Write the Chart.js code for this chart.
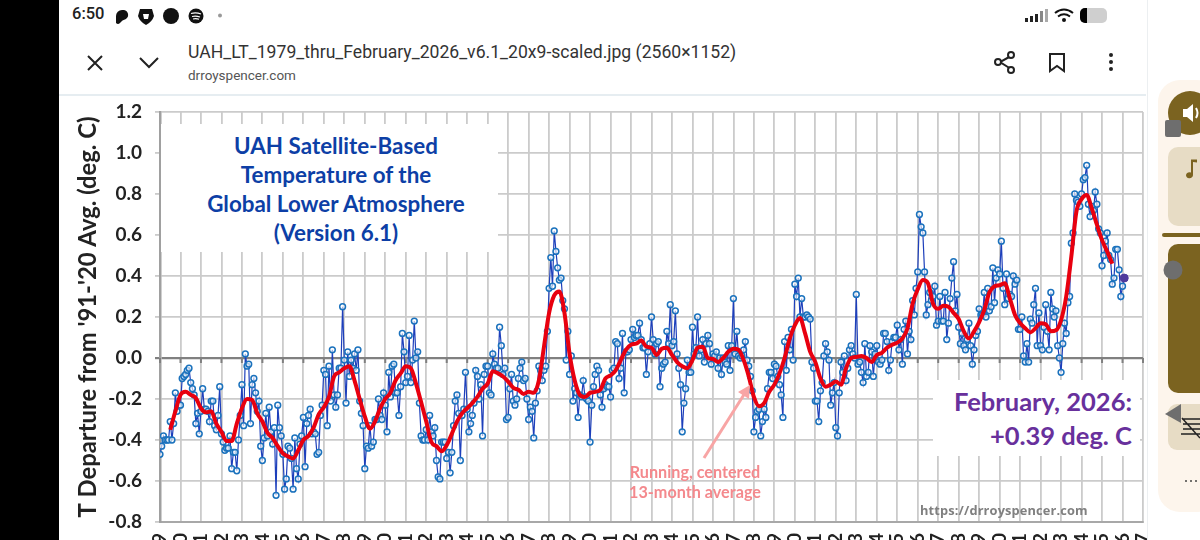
<!DOCTYPE html>
<html>
<head>
<meta charset="utf-8">
<title>UAH LT</title>
<script src="https://cdn.jsdelivr.net/npm/chart.js@4"></script>
<style>
    html, body { margin: 0; padding: 0; background: #fff; }
    body { position: relative; width: 1200px; height: 540px; overflow: hidden; font-family: Lato, sans-serif; }
    #chartcanvas { position: absolute; left: 0; top: 0; }
    .box { position: absolute; background: #fff; }
    .label { position: absolute; white-space: nowrap; }
    #blackbar { position: absolute; left: 0; top: 0; width: 59px; height: 540px; background: #000; }
    #sidepanel { position: absolute; left: 1147px; top: 0; width: 53px; height: 540px; background: #fff; border-left: 1px solid #eceff1; }
    #icons { position: absolute; left: 0; top: 0; }
    #headerline { position: absolute; left: 59px; top: 94px; width: 1087px; height: 2px; background: #e6edf1; }
    #charttitle { left: 161px; top: 124px; width: 337px; height: 128px; color: #0d3fa6; font-weight: 700; font-size: 22.4px; line-height: 29px; text-align: center; padding: 7px 0 0 13px; box-sizing: border-box; }
    #febtext { right: 68px; top: 384px; color: #68309c; font-weight: 700; font-size: 25.5px; line-height: 34px; text-align: right; }
    #runningtext { left: 610px; top: 462px; width: 170px; color: #f4898d; font-weight: 700; font-size: 16.2px; line-height: 20px; text-align: center; }
    #urltext { left: 920px; top: 501px; color: #808080; font-weight: 700; font-size: 12.8px; letter-spacing: 0.15px; font-family: "Open Sans", sans-serif; }
    #clock { left: 72px; top: 4px; color: #222; font-family: Roboto, sans-serif; font-weight: 500; font-size: 16.5px; }
    #filename { left: 188px; top: 42px; color: #333; font-family: Roboto, sans-serif; font-size: 17.6px; }
    #sitename { left: 188px; top: 67px; color: #555; font-family: Roboto, sans-serif; font-size: 13.5px; }
</style>
</head>
<body>
<canvas id="chartcanvas" width="1200" height="580"></canvas>

<div class="box" id="febbox" style="left:933px; top:380px; width:207px; height:76px;"></div>
<div class="box label" id="charttitle">UAH Satellite-Based<br>Temperature of the<br>Global Lower Atmosphere<br>(Version 6.1)</div>
<div class="label" id="febtext">February, 2026:<br>+0.39 deg. C</div>
<div class="label" id="runningtext">Running, centered<br>13-month average</div>
<div class="label" id="urltext">https://drroyspencer.com</div>

<div class="box" style="left:59px; top:0; width:1088px; height:94px;"></div>
<div id="headerline"></div>
<div id="blackbar"></div>
<div id="sidepanel"></div>
<div class="label" id="clock">6:50</div>
<div class="label" id="filename">UAH_LT_1979_thru_February_2026_v6.1_20x9-scaled.jpg (2560×1152)</div>
<div class="label" id="sitename">drroyspencer.com</div>

<svg id="icons" width="1200" height="540">
    <!-- pointer from the label to the red curve -->
    <line x1="704" y1="458" x2="745" y2="393" stroke="#f8a5a5" stroke-width="3"/>
    <polygon points="750,385 749,399 738,392" fill="#f8a5a5"/>

    <!-- status bar -->
    <path d="M116 23 v-7 a6 6 0 0 1 6 -6 h2 a5 5 0 0 1 2 9 q-4 1 -6 4 q-2 2 -4 0z" fill="#111"/>
    <path d="M140 9 h12 l2 7 q-2 6 -8 9 q-6 -3 -8 -9z" fill="#111"/><path d="M143 14 h6 l-1 5 h-4z" fill="#fff"/>
    <circle cx="171" cy="16" r="8" fill="#111"/>
    <circle cx="196" cy="16" r="7.5" fill="#111"/>
    <path d="M191 13.5 q5 -1.5 10 0.5 M192 16.5 q4 -1 8 0.5 M193 19 q3 -0.8 6 0.3" stroke="#fff" stroke-width="1.2" fill="none"/>
    <circle cx="220" cy="15.5" r="2" fill="#999"/>
    <rect x="1025" y="18" width="3" height="4" fill="#222"/><rect x="1030" y="16" width="3" height="6" fill="#222"/><rect x="1035" y="14" width="3" height="8" fill="#222"/>
    <rect x="1040" y="11" width="3" height="11" fill="#888"/><rect x="1045" y="9" width="3" height="13" fill="#aaa"/>
    <path d="M1055 13 q9 -7 18 0 M1058 16.5 q6 -4.5 12 0" stroke="#111" stroke-width="2" fill="none"/><circle cx="1064" cy="20" r="2" fill="#111"/>
    <rect x="1080" y="8" width="27" height="15" rx="5" fill="#cfcfcf"/><path d="M1085 8 h2 v15 h-2 a5 5 0 0 1 -5 -5 v-5 a5 5 0 0 1 5 -5z" fill="#000"/>

    <!-- header icons -->
    <path d="M88 56 l14 14 M102 56 l-14 14" stroke="#222" stroke-width="2" fill="none"/>
    <path d="M140 58 l9 9 l9 -9" stroke="#222" stroke-width="2" fill="none"/>
    <path d="M1011 56 l-11 6 l11 7" stroke="#222" stroke-width="2" fill="none"/>
    <circle cx="1011" cy="55" r="3" fill="#fff" stroke="#222" stroke-width="2"/><circle cx="998" cy="62" r="3" fill="#fff" stroke="#222" stroke-width="2"/><circle cx="1011" cy="70" r="3" fill="#fff" stroke="#222" stroke-width="2"/>
    <path d="M1050 54 h14 v17 l-7 -5 l-7 5z" stroke="#222" stroke-width="2" fill="none"/>
    <circle cx="1111" cy="55" r="2" fill="#222"/><circle cx="1111" cy="62" r="2" fill="#222"/><circle cx="1111" cy="69" r="2" fill="#222"/>

    <!-- side panel -->
    <rect x="1158" y="80" width="60" height="432" rx="22" fill="#fdf5ec"/>
    <circle cx="1190" cy="113" r="22" fill="#7b6320"/>
    <path d="M1183 109 h4 l6 -5 v18 l-6 -5 h-4z" fill="#fff"/><path d="M1196 108 q3 5 0 10" stroke="#fff" stroke-width="2" fill="none"/>
    <rect x="1165" y="120" width="16" height="17" rx="2" fill="#6e6e6e"/>
    <rect x="1168" y="147" width="50" height="79" rx="10" fill="#e7dcc5"/>
    <path d="M1193 162 v13 a3.5 3 0 1 1 -2 -2.5 v-13 h6 v3z" fill="#7b6320"/>
    <rect x="1162" y="233" width="50" height="4" rx="2" fill="#7b6320"/>
    <rect x="1168" y="244" width="50" height="149" rx="10" fill="#7b6320"/>
    <circle cx="1173" cy="270" r="9.5" fill="#6e6e6e"/>
    <rect x="1168" y="404" width="50" height="46" rx="9" fill="#e7dcc5"/>
    <path d="M1181 404 v19 l-16 -9z" fill="#6e6e6e"/>
    <path d="M1182 419 h18 M1183 424 h17 M1183 429 h17 M1181 434 h19 M1182 418 l18 20" stroke="#222" stroke-width="1.5" fill="none"/>
    <circle cx="1186" cy="481" r="1" fill="#444"/><circle cx="1191" cy="481" r="1" fill="#444"/><circle cx="1196" cy="481" r="1" fill="#444"/>
</svg>

<script>
// one row per year, Jan to Dec
var monthlyValues = [
    -0.47,-0.43,-0.38,-0.40,-0.40,-0.40,-0.31,-0.40,-0.32,-0.17,-0.26,-0.23,
    -0.23,-0.10,-0.09,-0.08,-0.06,-0.05,-0.12,-0.15,-0.18,-0.32,-0.27,-0.37,
    -0.26,-0.15,-0.25,-0.25,-0.26,-0.31,-0.21,-0.21,-0.33,-0.35,-0.28,-0.14,
    -0.37,-0.41,-0.45,-0.44,-0.44,-0.38,-0.54,-0.46,-0.46,-0.55,-0.40,-0.28,
    -0.13,-0.33, 0.02,-0.04,-0.03,-0.32,-0.13,-0.10,-0.17,-0.26,-0.21,-0.43,
    -0.50,-0.39,-0.27,-0.38,-0.24,-0.36,-0.42,-0.34,-0.67,-0.23,-0.34,-0.38,
    -0.47,-0.64,-0.59,-0.43,-0.44,-0.49,-0.64,-0.39,-0.54,-0.59,-0.42,-0.38,
    -0.29,-0.53,-0.32,-0.28,-0.25,-0.37,-0.36,-0.37,-0.47,-0.46,-0.28,-0.23,
    -0.06,-0.08,-0.33,-0.04,-0.21, 0.04,-0.18,-0.24,-0.18,-0.05,-0.05, 0.25,
    -0.01,-0.22, 0.03,-0.09,-0.01,-0.05, 0.02,-0.06, 0.04,-0.21,-0.27,-0.33,
    -0.54,-0.43,-0.44,-0.33,-0.43,-0.41,-0.30,-0.30,-0.20,-0.28,-0.30,-0.17,
    -0.23,-0.36,-0.07,-0.19,-0.04,-0.03,-0.17,-0.17,-0.28,-0.14, 0.12, 0.03,
    -0.12,-0.09, 0.11,-0.12,-0.01, 0.18, 0.00, 0.03,-0.22,-0.38,-0.40,-0.40,
    -0.35,-0.40,-0.28,-0.36,-0.38,-0.34,-0.50,-0.58,-0.59,-0.41,-0.41,-0.41,
    -0.49,-0.46,-0.56,-0.46,-0.33,-0.21,-0.18,-0.27,-0.50,-0.28,-0.25,-0.07,
    -0.25,-0.36,-0.32,-0.28,-0.22,-0.06,-0.09,-0.20,-0.13,-0.38,-0.08,-0.04,
    -0.04,-0.17,-0.18, 0.02,-0.03,-0.05,-0.05, 0.15, 0.06,-0.08,-0.05,-0.30,
    -0.29,-0.15,-0.08,-0.21,-0.23,-0.20,-0.10,-0.05,-0.02,-0.11,-0.10,-0.20,
    -0.30,-0.24,-0.26,-0.39,-0.22,-0.16,-0.04,-0.06,-0.11,-0.06,-0.04, 0.13,
     0.34, 0.49, 0.35, 0.62, 0.52, 0.44, 0.38, 0.39, 0.28, 0.24,-0.01, 0.13,
    -0.08, 0.01,-0.21,-0.15,-0.17,-0.29,-0.18,-0.19,-0.11,-0.19,-0.20,-0.21,
    -0.41,-0.23,-0.14,-0.08,-0.04,-0.06,-0.18,-0.24,-0.15,-0.13,-0.14,-0.14,
    -0.19,-0.06,-0.05, 0.08, 0.07,-0.10,-0.05, 0.12,-0.17, 0.03, 0.03, 0.04,
     0.09, 0.14, 0.10, 0.11, 0.11, 0.17, 0.09, 0.05, 0.05,-0.08, 0.03, 0.07,
     0.20, 0.09, 0.02, 0.07, 0.08,-0.14,-0.05,-0.03,-0.02, 0.13, 0.07, 0.26,
     0.06, 0.08, 0.23, 0.02,-0.05,-0.13,-0.36,-0.22,-0.15,-0.01,-0.07,-0.07,
     0.15, 0.02, 0.05, 0.20, 0.01, 0.04, 0.09,-0.02, 0.07, 0.11, 0.07,-0.03,
     0.02, 0.01, 0.03,-0.05, 0.00,-0.08, 0.00,-0.02,-0.03, 0.06,-0.06, 0.06,
     0.29, 0.02, 0.13, 0.01, 0.00, 0.01, 0.04, 0.08,-0.01,-0.04,-0.09,-0.16,
    -0.36,-0.29,-0.26,-0.25,-0.38,-0.31,-0.25,-0.29,-0.15,-0.07,-0.07,-0.10,
    -0.03,-0.04,-0.09,-0.13,-0.18,-0.29, 0.08,-0.06, 0.10, 0.04, 0.14,-0.01,
     0.36, 0.30, 0.39, 0.20, 0.29, 0.20, 0.20, 0.21, 0.20, 0.19,-0.02,-0.05,
    -0.21,-0.21,-0.31,-0.16,-0.12, 0.01, 0.07, 0.03,-0.01,-0.23,-0.17,-0.12,
    -0.34,-0.38,-0.17,-0.02,-0.07, 0.01,-0.11,-0.05, 0.04, 0.06, 0.02, 0.00,
     0.31,-0.03,-0.02,-0.07,-0.12, 0.07,-0.09,-0.07, 0.06, 0.03,-0.09, 0.02,
     0.06,-0.02,-0.03,-0.01, 0.12, 0.12, 0.08,-0.06,-0.01, 0.08, 0.10, 0.10,
     0.16, 0.04, 0.09,-0.03, 0.14, 0.18, 0.02, 0.13, 0.09, 0.28, 0.21, 0.34,
     0.42, 0.70, 0.64, 0.61, 0.42, 0.21, 0.26, 0.32, 0.28, 0.30, 0.35, 0.16,
     0.18, 0.30, 0.18, 0.18, 0.32, 0.09, 0.17, 0.29, 0.39, 0.47, 0.23, 0.31,
     0.15, 0.07, 0.12, 0.06, 0.04, 0.09, 0.17, 0.06,-0.03, 0.04, 0.11, 0.13,
     0.24, 0.21, 0.21, 0.32, 0.20, 0.34, 0.23, 0.25, 0.44, 0.27, 0.39, 0.43,
     0.41, 0.57, 0.34, 0.26, 0.41, 0.29, 0.31, 0.30, 0.40, 0.36, 0.38, 0.14,
     0.14, 0.20, 0.01,-0.02, 0.07,-0.02, 0.19, 0.17, 0.26, 0.34, 0.06, 0.22,
     0.06, 0.04, 0.15, 0.26, 0.13, 0.04, 0.32, 0.24, 0.20, 0.23, 0.06, 0.00,
    -0.07, 0.07, 0.17, 0.12, 0.27, 0.30, 0.56, 0.61, 0.80, 0.77, 0.76, 0.74,
     0.80, 0.87, 0.88, 0.94, 0.75, 0.69, 0.74, 0.72, 0.81, 0.75, 0.63, 0.61,
     0.45, 0.50, 0.57, 0.61, 0.50, 0.48, 0.36, 0.39, 0.53, 0.53, 0.43, 0.30,
     0.35, 0.39
];

// red curve read every third month, first reading is Jul 1979
var runningValues = [
    -0.35,-0.26,
    -0.18,-0.165,-0.18,-0.195,
    -0.245,-0.265,-0.26,-0.32,
    -0.36,-0.405,-0.405,-0.32,
    -0.245,-0.20,-0.205,-0.27,
    -0.31,-0.365,-0.39,-0.43,
    -0.465,-0.48,-0.49,-0.45,
    -0.40,-0.38,-0.34,-0.275,
    -0.24,-0.19,-0.09,-0.07,
    -0.05,-0.04,-0.11,-0.20,
    -0.285,-0.345,-0.31,-0.245,
    -0.20,-0.17,-0.11,-0.075,
    -0.04,-0.05,-0.125,-0.215,
    -0.31,-0.41,-0.43,-0.455,
    -0.425,-0.37,-0.31,-0.27,
    -0.245,-0.22,-0.19,-0.15,
    -0.125,-0.065,-0.075,-0.09,
    -0.115,-0.145,-0.155,-0.175,
    -0.165,-0.17,-0.11,0.055,
    0.22,0.305,0.325,0.22,
    0.02,-0.11,-0.18,-0.19,
    -0.17,-0.165,-0.155,-0.10,
    -0.085,-0.06,-0.01,0.04,
    0.065,0.07,0.085,0.055,
    0.05,0.015,0.045,0.05,
    0.015,-0.02,-0.04,-0.05,
    -0.01,0.05,0.055,0.00,
    -0.005,-0.02,0.00,0.03,
    0.045,0.04,-0.01,-0.09,
    -0.19,-0.235,-0.22,-0.165,
    -0.13,-0.075,0.00,0.095,
    0.16,0.195,0.12,0.03,
    -0.02,-0.10,-0.14,-0.13,
    -0.115,-0.13,-0.05,0.00,
    0.005,0.01,0.00,-0.02,
    0.015,0.025,0.05,0.065,
    0.075,0.095,0.145,0.265,
    0.335,0.38,0.365,0.265,
    0.24,0.255,0.25,0.22,
    0.19,0.13,0.095,0.13,
    0.175,0.235,0.32,0.35,
    0.355,0.365,0.29,0.21,
    0.17,0.145,0.125,0.145,
    0.17,0.165,0.13,0.135,
    0.185,0.30,0.495,0.715,
    0.775,0.795,0.73,0.65,
    0.575,0.52,0.46
];

var yearTicks = {min: 1979, max: 2027};
var tempTicks = {min: -0.8, max: 1.2, step: 0.2};

function monthToX(month) {
    return 1979 + month / 12;
}

var monthlyPoints = monthlyValues.map(function (v, i) { return {x: monthToX(i), y: v}; });
var runningPoints = runningValues.map(function (v, i) { return {x: monthToX(6 + 3 * i), y: v}; });
var latestPoint = [monthlyPoints[monthlyPoints.length - 1]];

// little tick marks hang below the zero line
var zeroLineTicks = {
    id: 'zeroLineTicks',
    beforeDatasetsDraw: function (chart) {
        var ctx = chart.ctx;
        var xs = chart.scales.x;
        var y0 = chart.scales.y.getPixelForValue(0);
        ctx.save();
        ctx.strokeStyle = '#808080';
        ctx.lineWidth = 2;
        for (var yr = yearTicks.min; yr <= yearTicks.max; yr++) {
            ctx.beginPath();
            ctx.moveTo(xs.getPixelForValue(yr), y0);
            ctx.lineTo(xs.getPixelForValue(yr), y0 + 5);
            ctx.stroke();
        }
        ctx.restore();
    }
};

function noMargins(axis) {
    axis.paddingTop = 0;
    axis.paddingBottom = 0;
    axis.paddingLeft = 0;
    axis.paddingRight = 0;
}

new Chart(document.getElementById('chartcanvas'), {
    type: 'line',
    plugins: [zeroLineTicks],
    data: {
        datasets: [
            {
                label: 'Latest',
                data: latestPoint,
                showLine: false,
                pointRadius: 4,
                pointBackgroundColor: '#4f3a9c',
                pointBorderColor: '#4f3a9c',
                order: 0
            },
            {
                label: 'Running, centered 13-month average',
                data: runningPoints,
                borderColor: '#e8000f',
                borderWidth: 4,
                pointRadius: 0,
                tension: 0.35,
                cubicInterpolationMode: 'monotone',
                order: 1
            },
            {
                label: 'UAH LT',
                data: monthlyPoints,
                borderColor: '#1d3fbb',
                borderWidth: 1.2,
                pointRadius: 2.9,
                pointBorderWidth: 1.5,
                pointBorderColor: '#1b72bd',
                pointBackgroundColor: 'rgba(255,255,255,0.6)',
                tension: 0,
                order: 2
            }
        ]
    },
    options: {
        responsive: false,
        animation: false,
        layout: { padding: { left: 70, right: 57, top: 112, bottom: 0 } },
        plugins: { legend: { display: false }, tooltip: { enabled: false } },
        scales: {
            x: {
                type: 'linear',
                min: yearTicks.min,
                max: yearTicks.max,
                afterBuildTicks: function (axis) {
                    var list = [];
                    for (var yr = yearTicks.min; yr <= yearTicks.max; yr++) list.push({value: yr});
                    axis.ticks = list;
                },
                afterFit: function (axis) { axis.height = 58; noMargins(axis); },
                grid: { color: '#cbcbcb', lineWidth: 1.8, drawTicks: false },
                border: { color: '#a8a8a8', width: 2 },
                ticks: {
                    autoSkip: false,
                    maxRotation: 90,
                    minRotation: 90,
                    padding: 11,
                    color: '#222',
                    font: { family: 'Lato', size: 19, weight: 'bold' },
                    callback: function (v) { return String(v); }
                }
            },
            y: {
                min: tempTicks.min,
                max: tempTicks.max,
                afterFit: function (axis) { axis.width = 90; noMargins(axis); },
                grid: {
                    color: function (c) { return c.tick && Math.abs(c.tick.value) < 1e-6 ? '#808080' : '#cbcbcb'; },
                    lineWidth: function (c) { return c.tick && Math.abs(c.tick.value) < 1e-6 ? 2.2 : 1.8; },
                    tickLength: 5
                },
                border: { color: '#a0a0a0', width: 2.5 },
                title: {
                    display: true,
                    text: "T Departure from '91-'20 Avg. (deg. C)",
                    color: '#222',
                    font: { family: 'Lato', size: 23.8, weight: 'bold' }
                },
                ticks: {
                    stepSize: tempTicks.step,
                    padding: 13,
                    color: '#222',
                    font: { family: 'Lato', size: 19, weight: 'bold' },
                    callback: function (v) { return v.toFixed(1); }
                }
            }
        }
    }
});
</script>
</body>
</html>
